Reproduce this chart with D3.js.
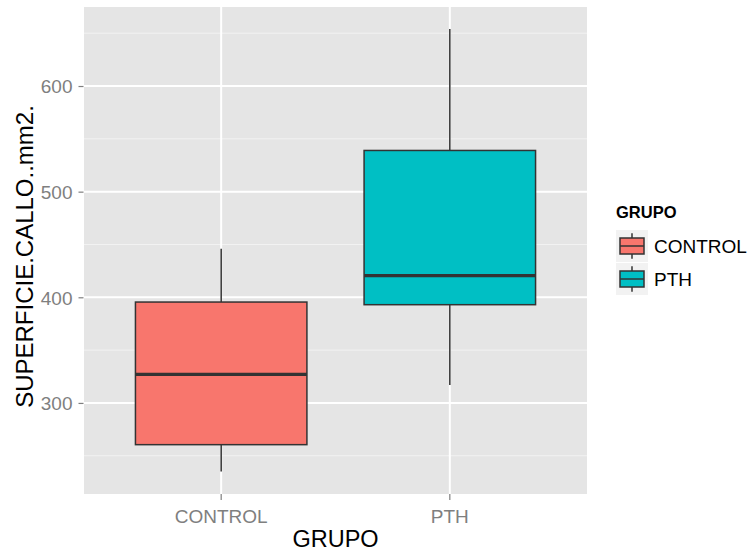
<!DOCTYPE html>
<html>
<head>
<meta charset="utf-8">
<script src="https://cdn.jsdelivr.net/npm/d3@7"></script>
<style>
  body { margin: 0; background: #fff; }
  text { font-family: "Liberation Sans", Arial, sans-serif; }
</style>
</head>
<body>
<svg width="749" height="554"></svg>
<script>
const WIDTH = 749;
const HEIGHT = 554;

// boxplot stats
var groups = ['CONTROL', 'PTH'];
var whiskerLow = [235, 317];
var q1 = [260.5, 393];
var median = [327, 420.5];
var q3 = [395.5, 539];
var whiskerHigh = [446, 654];
var colors = ['#F8766D', '#00BFC4'];

var majorTicks = [300, 400, 500, 600];
var minorTicks = [250, 350, 450, 550, 650];

var panel = {left: 84, top: 7, right: 587, bottom: 494};

var svg = d3.select('svg');

var yScale = d3.scaleLinear()
    .domain([213.8, 674.8])
    .range([panel.bottom, panel.top]);

// discrete x with 0.6 expansion each side (like ggplot)
var xScale = d3.scaleBand()
    .domain(groups)
    .range([panel.left, panel.right])
    .paddingInner(0)
    .paddingOuter(0.1);
var step = xScale.step();
function xPos(g) { return xScale(g) + step / 2; }
var boxW = step * 0.75;

// panel background
svg.append('rect')
    .attr('x', panel.left).attr('y', panel.top)
    .attr('width', panel.right - panel.left)
    .attr('height', panel.bottom - panel.top)
    .attr('fill', '#E5E5E5');

// minor grid
svg.selectAll('.minor').data(minorTicks).enter().append('line')
    .attr('x1', panel.left).attr('x2', panel.right)
    .attr('y1', d => yScale(d)).attr('y2', d => yScale(d))
    .attr('stroke', '#F2F2F2').attr('stroke-width', 1);

// major grid
svg.selectAll('.major').data(majorTicks).enter().append('line')
    .attr('x1', panel.left).attr('x2', panel.right)
    .attr('y1', d => yScale(d)).attr('y2', d => yScale(d))
    .attr('stroke', '#FFFFFF').attr('stroke-width', 2);

svg.selectAll('.vmajor').data(groups).enter().append('line')
    .attr('x1', d => xPos(d)).attr('x2', d => xPos(d))
    .attr('y1', panel.top).attr('y2', panel.bottom)
    .attr('stroke', '#FFFFFF').attr('stroke-width', 2);

// boxes
var box = svg.selectAll('.box').data(groups).enter().append('g');
box.append('line')
    .attr('x1', d => xPos(d)).attr('x2', d => xPos(d))
    .attr('y1', (d, i) => yScale(whiskerHigh[i]))
    .attr('y2', (d, i) => yScale(q3[i]))
    .attr('stroke', '#333333').attr('stroke-width', 1.5);
box.append('line')
    .attr('x1', d => xPos(d)).attr('x2', d => xPos(d))
    .attr('y1', (d, i) => yScale(q1[i]))
    .attr('y2', (d, i) => yScale(whiskerLow[i]))
    .attr('stroke', '#333333').attr('stroke-width', 1.5);
box.append('rect')
    .attr('x', d => xPos(d) - boxW / 2)
    .attr('width', boxW)
    .attr('y', (d, i) => yScale(q3[i]))
    .attr('height', (d, i) => yScale(q1[i]) - yScale(q3[i]))
    .attr('fill', (d, i) => colors[i])
    .attr('stroke', '#333333').attr('stroke-width', 1.5);
box.append('line')
    .attr('x1', d => xPos(d) - boxW / 2).attr('x2', d => xPos(d) + boxW / 2)
    .attr('y1', (d, i) => yScale(median[i]))
    .attr('y2', (d, i) => yScale(median[i]))
    .attr('stroke', '#333333').attr('stroke-width', 3.2);

// y axis
var yAxis = d3.axisLeft(yScale).tickValues(majorTicks).tickSize(5).tickPadding(6);
var gy = svg.append('g').attr('transform', 'translate(' + (panel.left - 0.5) + ',0)').call(yAxis);
gy.select('.domain').remove();
gy.selectAll('line').attr('stroke', '#7F7F7F').attr('stroke-width', 1.2);
gy.selectAll('text').attr('fill', '#7F7F7F').style('font-size', '19px')
    .attr('dy', '0.36em');

// x axis
var gx = svg.append('g').attr('transform', 'translate(0,' + panel.bottom + ')');
gx.selectAll('line').data(groups).enter().append('line')
    .attr('x1', d => xPos(d)).attr('x2', d => xPos(d))
    .attr('y1', 0).attr('y2', 6)
    .attr('stroke', '#7F7F7F').attr('stroke-width', 1.2);
gx.selectAll('text').data(groups).enter().append('text')
    .attr('x', d => xPos(d)).attr('y', 28.5)
    .attr('text-anchor', 'middle')
    .attr('fill', '#7F7F7F').style('font-size', '19px')
    .text(d => d);

// axis titles
svg.append('text')
    .attr('x', (panel.left + panel.right) / 2).attr('y', 547)
    .attr('text-anchor', 'middle').style('font-size', '23.5px')
    .text('GRUPO');
svg.append('text')
    .attr('transform', 'translate(33,' + ((panel.top + panel.bottom) / 2 + 6) + ') rotate(-90)')
    .attr('text-anchor', 'middle').style('font-size', '24px')
    .text('SUPERFICIE.CALLO..mm2.');

// legend
var legend = svg.append('g').attr('transform', 'translate(616,0)');
legend.append('text').attr('x', 0).attr('y', 218)
    .style('font-size', '16.5px').style('font-weight', 'bold')
    .text('GRUPO');
var keySize = 32;
var key = legend.selectAll('.key').data(groups).enter().append('g')
    .attr('transform', (d, i) => 'translate(0,' + (230 + i * 33) + ')');
key.append('rect').attr('width', keySize).attr('height', keySize).attr('fill', '#F2F2F2');
key.append('line').attr('x1', keySize / 2).attr('x2', keySize / 2)
    .attr('y1', keySize * 0.1).attr('y2', keySize * 0.9)
    .attr('stroke', '#333333').attr('stroke-width', 1.5);
key.append('rect')
    .attr('x', keySize * 0.125).attr('y', keySize * 0.25)
    .attr('width', keySize * 0.75).attr('height', keySize * 0.5)
    .attr('fill', (d, i) => colors[i])
    .attr('stroke', '#333333').attr('stroke-width', 1.5);
key.append('line')
    .attr('x1', keySize * 0.125).attr('x2', keySize * 0.875)
    .attr('y1', keySize / 2).attr('y2', keySize / 2)
    .attr('stroke', '#333333').attr('stroke-width', 1.5);
key.append('text')
    .attr('x', keySize + 6).attr('y', keySize / 2).attr('dy', '0.36em')
    .style('font-size', '19px')
    .text(d => d);
</script>
</body>
</html>
